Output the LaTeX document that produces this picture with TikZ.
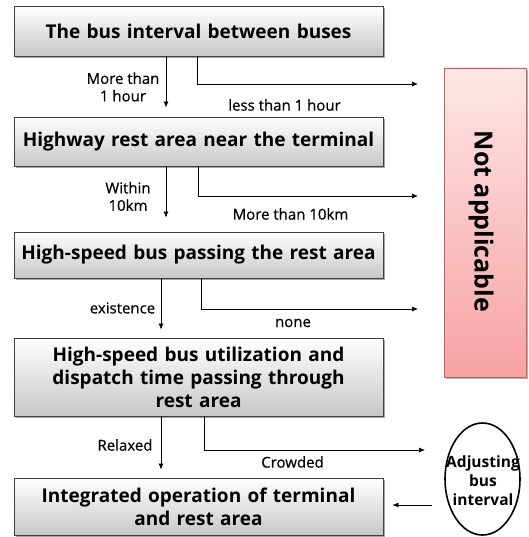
\documentclass[tikz,border=0pt]{standalone}
\usepackage{fontspec}
\setmainfont{Open Sans}
\newfontfamily\labfont[FakeBold=0.5]{Open Sans}
\usetikzlibrary{shadows,arrows.meta,shapes.geometric}
\definecolor{boxedge}{HTML}{404040}
\definecolor{natop}{HTML}{FDE6E6}
\definecolor{nabot}{HTML}{F8A2A2}
\definecolor{naedge}{HTML}{C8605C}
\begin{document}
\begin{tikzpicture}[x=1pt,y=-1pt,
  stagebox/.style={draw=boxedge, line width=0.9pt, top color=white, bottom color=black!22,
    minimum width=369pt, text width=360pt, align=center, inner sep=0pt,
    font=\fontsize{19}{23}\selectfont\bfseries,
    drop shadow={shadow xshift=2pt, shadow yshift=-2pt, opacity=0.35, fill=black}},
  lab/.style={font=\fontsize{15}{17.5}\labfont, align=center, inner sep=0pt},
  arr/.style={-{Latex[length=6pt,width=5pt]}, line width=0.7pt}]
\useasboundingbox (0,0) rectangle (528,537);
\node[stagebox, minimum height=50pt] (b1) at (198.5,31) {The bus interval between buses};
\node[stagebox, minimum height=49pt] (b2) at (198.5,141.5) {Highway rest area near the terminal};
\node[stagebox, minimum height=46pt] (b3) at (198.5,255) {High-speed bus passing the rest area};
\node[stagebox, minimum height=78pt] (b4) at (198.5,377) {High-speed bus utilization and\\dispatch time passing through\\rest area};
\node[stagebox, minimum height=57pt] (b5) at (198.5,506.5) {Integrated operation of terminal\\and rest area};
\node[draw=naedge, line width=0.8pt, top color=natop, bottom color=nabot,
  minimum width=82pt, minimum height=309pt, inner sep=0pt,
  drop shadow={shadow xshift=2pt, shadow yshift=-2pt, opacity=0.3, fill=black}] (na) at (485,222.5) {};
\node[rotate=-90, font=\fontsize{25}{28}\selectfont\bfseries, inner sep=0pt] (natext) at (481,221.5) {Not applicable};
\node[ellipse, draw, line width=1.6pt, fill=white, minimum width=75pt, minimum height=112pt,
  inner sep=0pt] (ell) at (482.5,479) {};
\node[align=center, inner sep=0pt, font=\fontsize{15.5}{19}\selectfont\bfseries] (elltext) at ([xshift=0.5pt,yshift=-2pt]ell.center) {Adjusting\\bus\\interval};
% end coordinates
\coordinate (e1) at (418,84);
\coordinate (e2) at (418,196);
\coordinate (e3) at (418,309);
\coordinate (e4) at (425,450);
\coordinate (e5) at (432,505);
% down arrows
\draw[arr, shorten >=9pt] ([xshift=-32.5pt]b1.south) -- ([xshift=-32.5pt]b2.north);
\draw[arr, shorten >=14pt] ([xshift=-32.5pt]b2.south) -- ([xshift=-32.5pt]b3.north);
\draw[arr, shorten >=8pt] ([xshift=-37.5pt]b3.south) -- ([xshift=-37.5pt]b4.north);
\draw[arr, shorten >=8pt] ([xshift=-37.5pt]b4.south) -- ([xshift=-37.5pt]b5.north);
% branches
\draw[arr] ([xshift=-1.5pt]b1.south) |- (e1);
\draw[arr] ([xshift=-0.5pt]b2.south) |- (e2);
\draw[arr] ([xshift=2.5pt]b3.south) |- (e3);
\draw[arr] ([xshift=5.5pt]b4.south) |- (e4);
\draw[arr, shorten >=9pt] (e5) -- (e5 -| b5.east);
% labels
\node[lab] (l1) at (123,87) {More than\\1 hour};
\node[lab] (l2) at (284.5,105) {less than 1 hour};
\node[lab] (l3) at (128,196.5) {Within\\10km};
\node[lab] (l4) at (290.5,214) {More than 10km};
\node[lab] (l5) at (122.5,308) {existence};
\node[lab] (l6) at (293,323) {none};
\node[lab] (l7) at (125,445) {Relaxed};
\node[lab] (l8) at (292.5,462) {Crowded};
\end{tikzpicture}
\end{document}
